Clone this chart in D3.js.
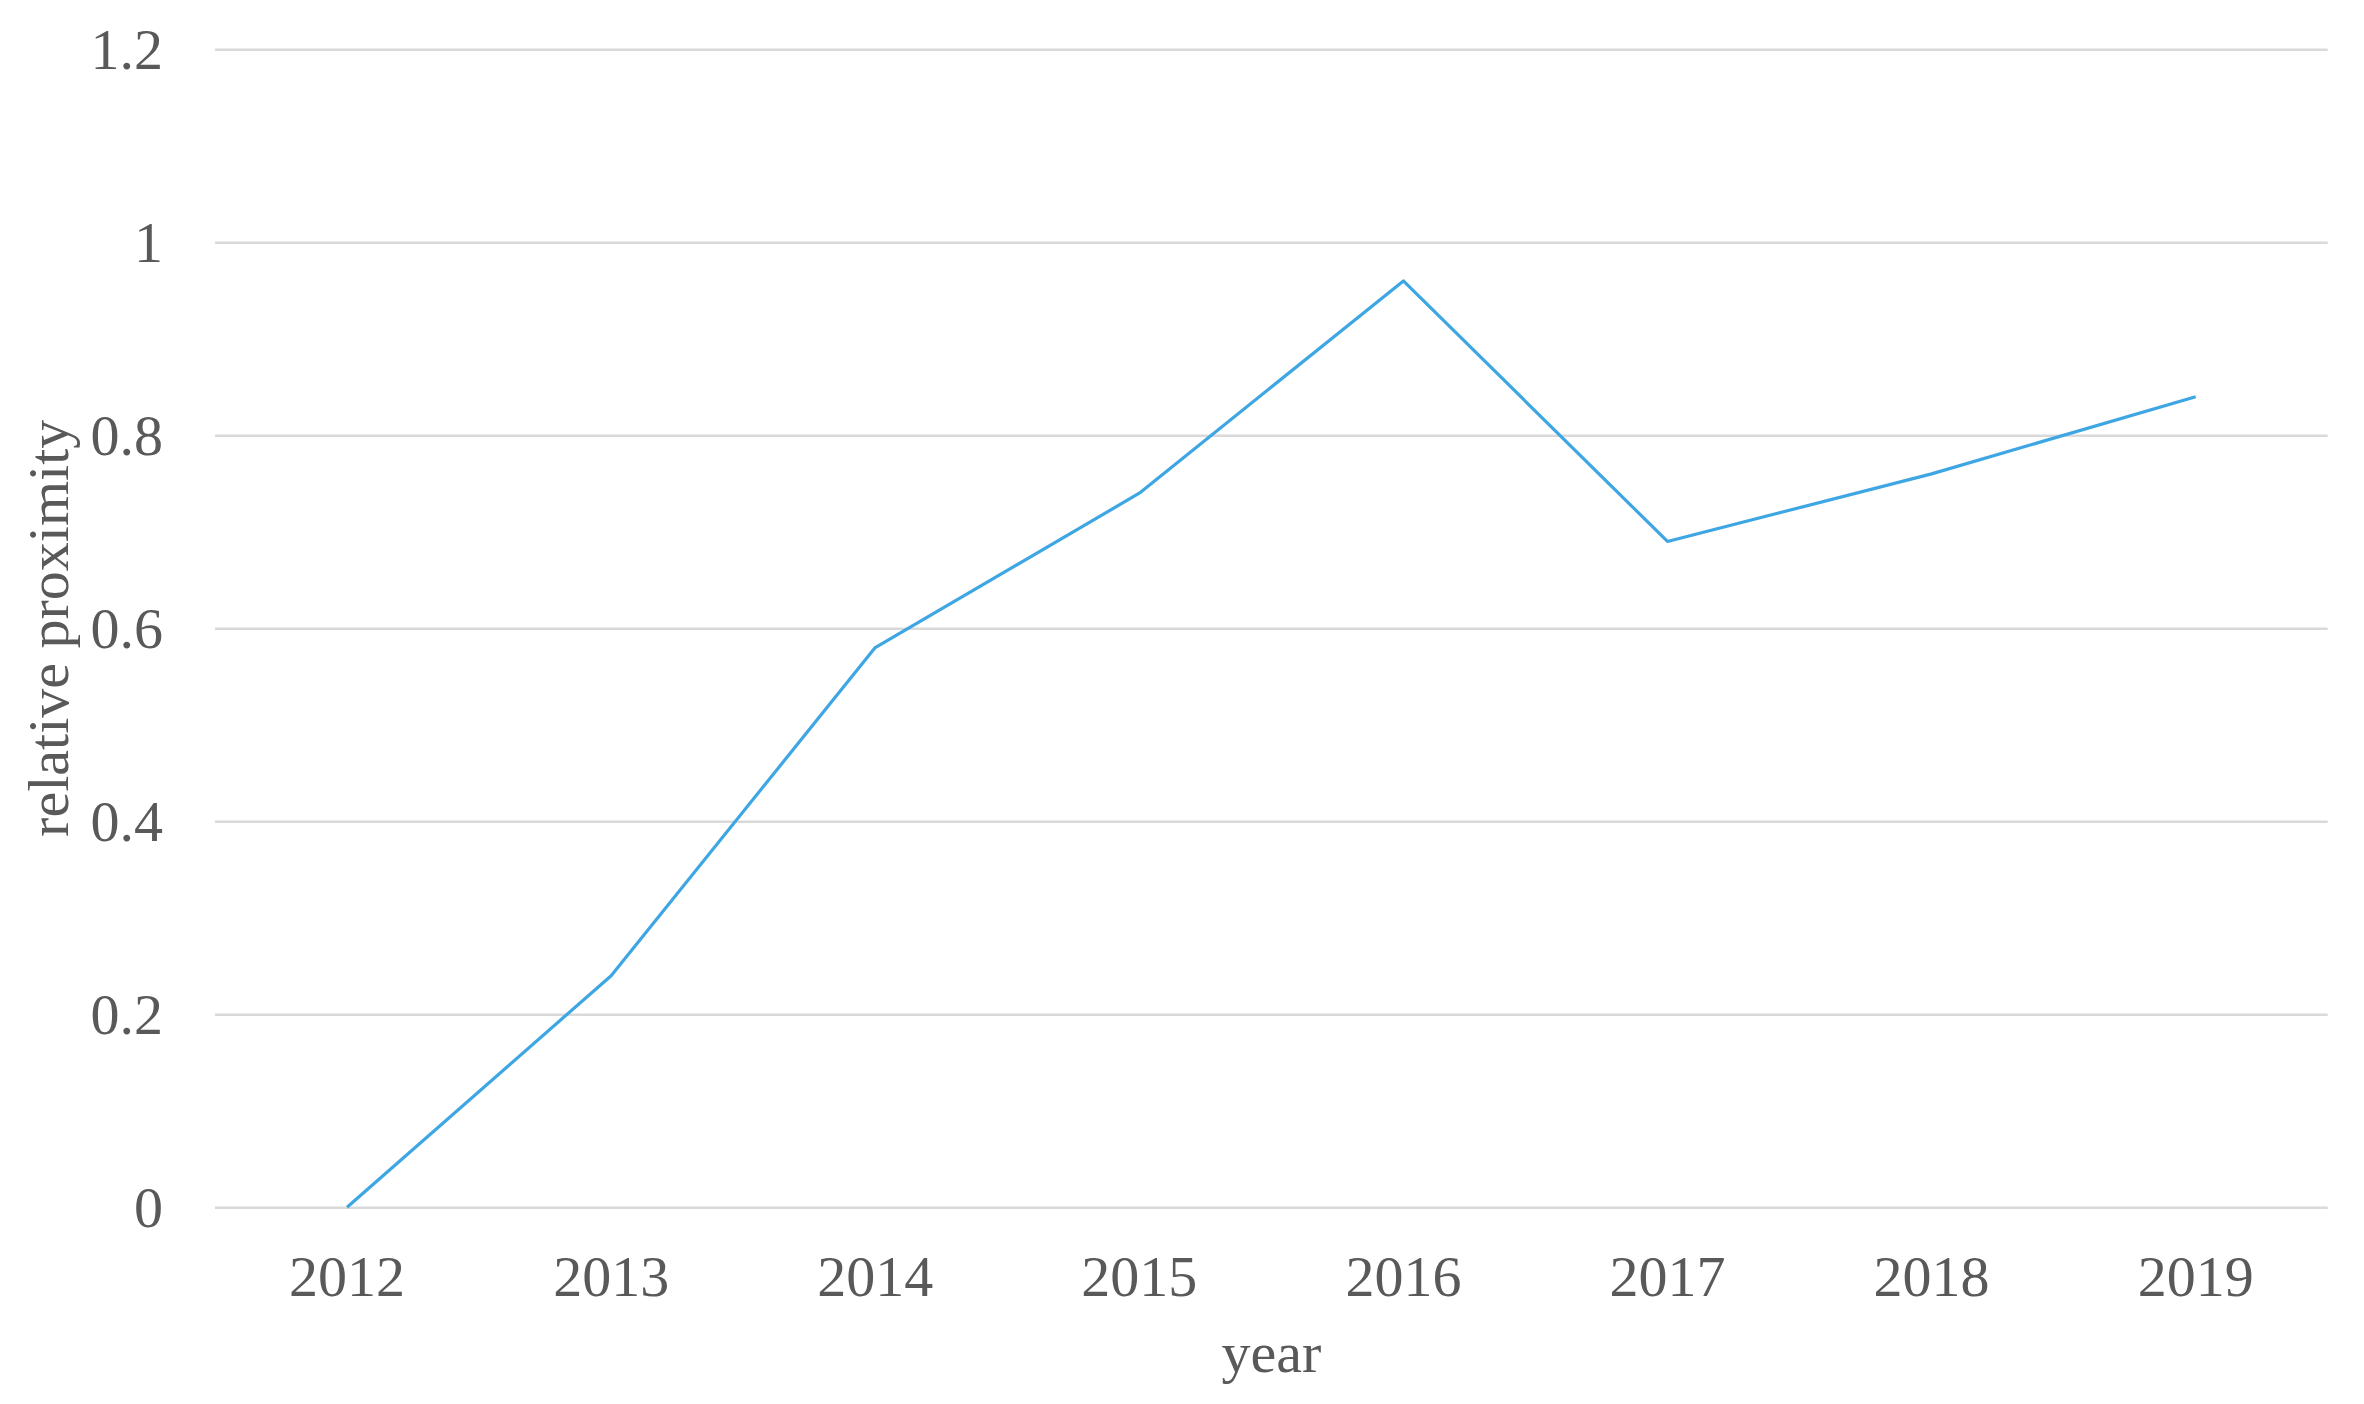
<!DOCTYPE html>
<html>
<head>
<meta charset="utf-8">
<script src="https://cdn.jsdelivr.net/npm/d3@7"></script>
<style>
  html, body { margin: 0; padding: 0; background: #ffffff; }
  svg { display: block; }
  text { font-family: "Liberation Serif", "Times New Roman", serif; fill: #595959; }
</style>
</head>
<body>
<svg id="chart" width="2364" height="1404"></svg>
<script>
const years = ["2012", "2013", "2014", "2015", "2016", "2017", "2018", "2019"];
const proximity = [0, 0.24, 0.58, 0.74, 0.96, 0.69, 0.76, 0.84];
const yTickValues = [0, 0.2, 0.4, 0.6, 0.8, 1, 1.2];
const yTickLabels = ["0", "0.2", "0.4", "0.6", "0.8", "1", "1.2"];
const xTitle = "year";
const yTitle = "relative proximity";

const svg = d3.select("#chart");
const plotLeft = 215, plotRight = 2327.7, plotTop = 49.3, plotBottom = 1207.3;

const x = d3.scaleBand().domain(years).range([plotLeft, plotRight]).padding(0);
const y = d3.scaleLinear().domain([0, 1.2]).range([plotBottom, plotTop]);

// Y gridlines + labels
const yAxis = d3.axisLeft(y)
  .tickValues(yTickValues)
  .tickFormat((d, i) => yTickLabels[i])
  .tickSize(-(plotRight - plotLeft))
  .tickPadding(52);
const gy = svg.append("g").attr("transform", `translate(${plotLeft},0)`).call(yAxis);
gy.select(".domain").remove();
gy.selectAll(".tick line").attr("stroke", "#d9d9d9").attr("stroke-width", 2.5);
gy.selectAll(".tick text")
  .attr("font-size", 58)
  .attr("dy", "0.33em")
  .style("font-family", '"Liberation Serif", "Times New Roman", serif')
  .attr("fill", "#595959");

// X labels
const xAxis = d3.axisBottom(x).tickSize(0).tickPadding(0);
const gx = svg.append("g").attr("transform", `translate(0,${plotBottom})`).call(xAxis);
gx.select(".domain").remove();
gx.selectAll(".tick text")
  .attr("font-size", 58)
  .attr("y", 89)
  .attr("dy", 0)
  .style("font-family", '"Liberation Serif", "Times New Roman", serif')
  .attr("fill", "#595959");

// Line
const line = d3.line()
  .x((d, i) => x(years[i]) + x.bandwidth() / 2)
  .y(d => y(d));
svg.append("path")
  .datum(proximity)
  .attr("fill", "none")
  .attr("stroke", "#3ea6e3")
  .attr("stroke-width", 3.2)
  .attr("stroke-linejoin", "round")
  .attr("d", line);

// Axis titles
svg.append("text")
  .attr("x", (plotLeft + plotRight) / 2)
  .attr("y", 1372)
  .attr("text-anchor", "middle")
  .attr("font-size", 58)
  .text(xTitle);

svg.append("text")
  .attr("transform", `translate(68,${(plotTop + plotBottom) / 2}) rotate(-90)`)
  .attr("text-anchor", "middle")
  .attr("font-size", 58)
  .text(yTitle);
</script>
</body>
</html>
